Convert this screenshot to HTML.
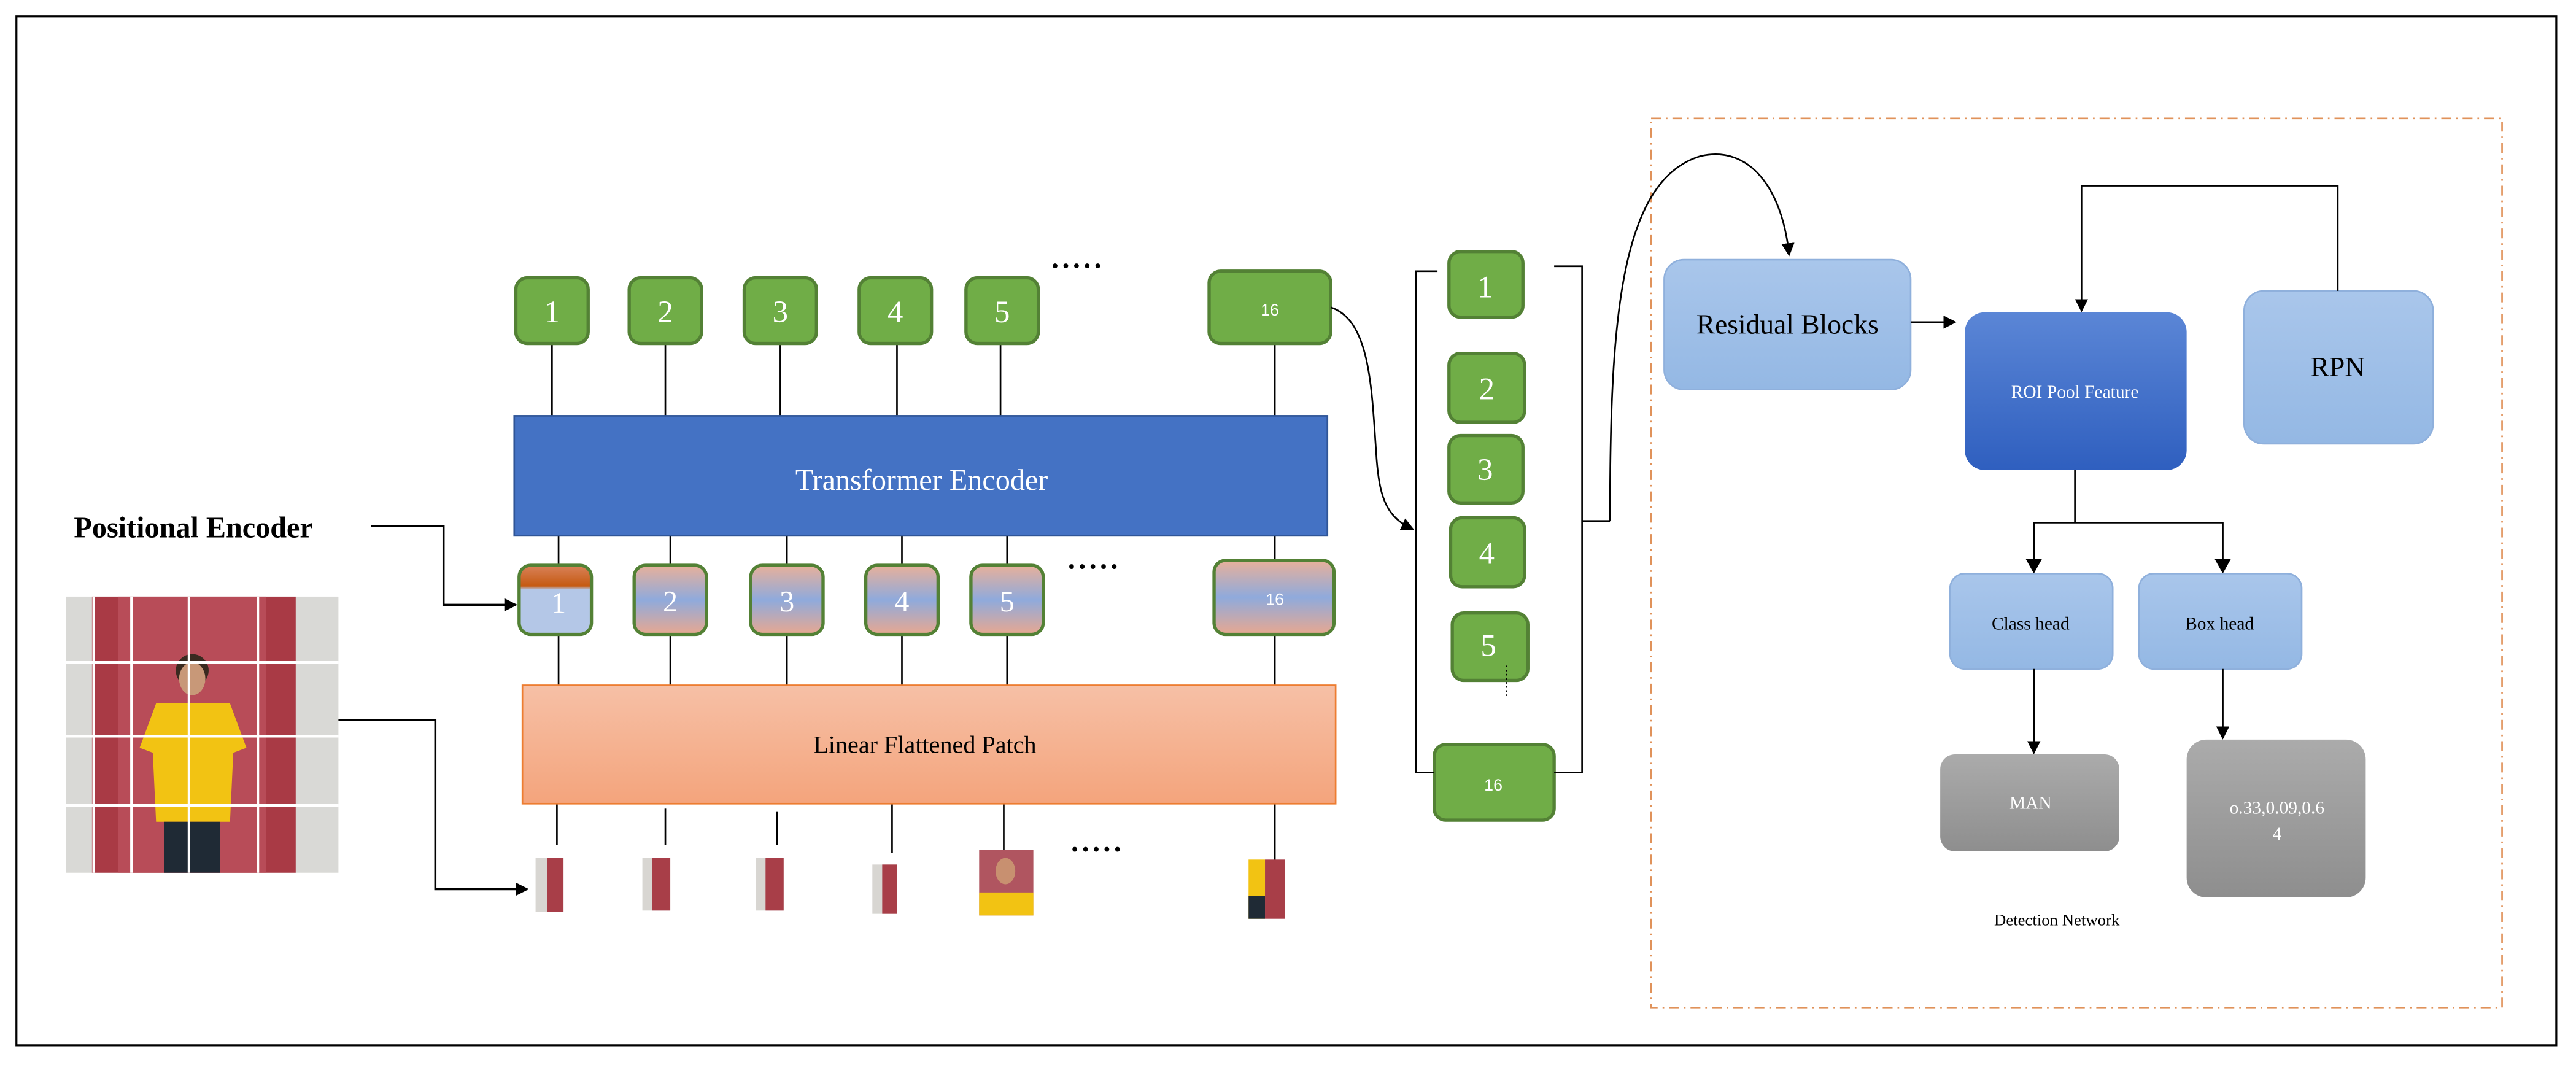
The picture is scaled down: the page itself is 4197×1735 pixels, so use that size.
<!DOCTYPE html>
<html><head><style>html,body{margin:0;padding:0;background:#fff}svg{display:block}</style></head><body>
<svg width="4197" height="1735" viewBox="0 0 1568 648" preserveAspectRatio="none" xmlns="http://www.w3.org/2000/svg" font-family="Liberation Serif, serif">
<defs>
<marker id="a" markerWidth="8" markerHeight="8" refX="7" refY="4" orient="auto" markerUnits="userSpaceOnUse"><path d="M0,0L8,4L0,8z" fill="#000"/></marker>
<linearGradient id="mid" x1="0" y1="0" x2="0" y2="1"><stop offset="0" stop-color="#E8B09A"/><stop offset=".5" stop-color="#8FAADC"/><stop offset="1" stop-color="#E8A890"/></linearGradient>
<linearGradient id="mid1" x1="0" y1="0" x2="0" y2="1"><stop offset="0" stop-color="#D9825A"/><stop offset=".3" stop-color="#C55A11"/><stop offset=".35" stop-color="#B4C7E7"/><stop offset="1" stop-color="#B4C7E7"/></linearGradient>
<linearGradient id="lin" x1="0" y1="0" x2="0" y2="1"><stop offset="0" stop-color="#F6C0A6"/><stop offset="1" stop-color="#F4A47C"/></linearGradient>
<linearGradient id="roi" x1="0" y1="0" x2="0" y2="1"><stop offset="0" stop-color="#5B86D6"/><stop offset="1" stop-color="#2F5FBF"/></linearGradient>
<linearGradient id="lb" x1="0" y1="0" x2="0" y2="1"><stop offset="0" stop-color="#A9C6EB"/><stop offset="1" stop-color="#94B8E4"/></linearGradient>
<linearGradient id="gr" x1="0" y1="0" x2="0" y2="1"><stop offset="0" stop-color="#ABABAB"/><stop offset="1" stop-color="#8E8E8E"/></linearGradient>
</defs>
<rect x="10" y="10" width="1546" height="626" fill="#fff" stroke="#000" stroke-width="1.2"/>
<rect x="1005" y="72" width="518" height="541" fill="none" stroke="#E0925A" stroke-width="1" stroke-dasharray="6,3,1,3"/>

<g stroke="#000" stroke-width="1">
<line x1="336" y1="209" x2="336" y2="253"/><line x1="405" y1="209" x2="405" y2="253"/><line x1="475" y1="209" x2="475" y2="253"/><line x1="546" y1="209" x2="546" y2="253"/><line x1="609" y1="209" x2="609" y2="253"/><line x1="776" y1="209" x2="776" y2="253"/>
<line x1="340" y1="326" x2="340" y2="344"/><line x1="408" y1="326" x2="408" y2="344"/><line x1="479" y1="326" x2="479" y2="344"/><line x1="549" y1="326" x2="549" y2="344"/><line x1="613" y1="326" x2="613" y2="344"/><line x1="776" y1="326" x2="776" y2="342"/>
<line x1="340" y1="386" x2="340" y2="417"/><line x1="408" y1="386" x2="408" y2="417"/><line x1="479" y1="386" x2="479" y2="417"/><line x1="549" y1="386" x2="549" y2="417"/><line x1="613" y1="386" x2="613" y2="417"/><line x1="776" y1="386" x2="776" y2="417"/>
<line x1="339" y1="489" x2="339" y2="514"/><line x1="405" y1="492" x2="405" y2="514"/><line x1="473" y1="494" x2="473" y2="514"/><line x1="543" y1="489" x2="543" y2="519"/><line x1="611" y1="489" x2="611" y2="522"/><line x1="776" y1="489" x2="776" y2="530"/>
</g>

<g fill="#70AD47" stroke="#538135" stroke-width="2">
<rect x="314" y="169" width="44" height="40" rx="7"/><rect x="383" y="169" width="44" height="40" rx="7"/><rect x="453" y="169" width="44" height="40" rx="7"/><rect x="523" y="169" width="44" height="40" rx="7"/><rect x="588" y="169" width="44" height="40" rx="7"/><rect x="736" y="165" width="74" height="44" rx="7"/>
<rect x="882" y="153" width="45" height="40" rx="7"/><rect x="882" y="215" width="46" height="42" rx="7"/><rect x="882" y="265" width="45" height="41" rx="7"/><rect x="883" y="315" width="45" height="42" rx="7"/><rect x="884" y="373" width="46" height="41" rx="7"/><rect x="873" y="453" width="73" height="46" rx="7"/>
</g>
<g fill="#fff" font-size="19" text-anchor="middle">
<text x="336" y="196">1</text><text x="405" y="196">2</text><text x="475" y="196">3</text><text x="545" y="196">4</text><text x="610" y="196">5</text><text x="773" y="192" font-size="10" font-family="Liberation Sans, sans-serif">16</text>
<text x="904" y="181">1</text><text x="905" y="243">2</text><text x="904" y="292">3</text><text x="905" y="343">4</text><text x="906" y="399">5</text><text x="909" y="481" font-size="10" font-family="Liberation Sans, sans-serif">16</text>
</g>
<line x1="917" y1="405" x2="917" y2="425" stroke="#000" stroke-dasharray="1,1.5"/>

<g font-size="18" font-weight="bold" fill="#000"><text x="640" y="163" letter-spacing="2">.....</text><text x="650" y="346" letter-spacing="2">.....</text><text x="652" y="518" letter-spacing="2">.....</text></g>

<rect x="313" y="253" width="495" height="73" fill="#4472C4" stroke="#2F5597" stroke-width="1"/>
<text x="561" y="298" fill="#fff" font-size="18" text-anchor="middle">Transformer Encoder</text>

<g stroke="#538135" stroke-width="2">
<rect x="316" y="344" width="44" height="42" rx="7" fill="url(#mid1)"/><rect x="386" y="344" width="44" height="42" rx="7" fill="url(#mid)"/><rect x="457" y="344" width="44" height="42" rx="7" fill="url(#mid)"/><rect x="527" y="344" width="44" height="42" rx="7" fill="url(#mid)"/><rect x="591" y="344" width="44" height="42" rx="7" fill="url(#mid)"/><rect x="739" y="341" width="73" height="45" rx="7" fill="url(#mid)"/>
</g>
<g fill="#fff" font-size="18" text-anchor="middle">
<text x="340" y="373">1</text><text x="408" y="372">2</text><text x="479" y="372">3</text><text x="549" y="372">4</text><text x="613" y="372">5</text><text x="776" y="368" font-size="10" font-family="Liberation Sans, sans-serif">16</text>
</g>

<rect x="318" y="417" width="495" height="72" fill="url(#lin)" stroke="#ED7D31" stroke-width="1"/>
<text x="563" y="458" font-size="15" text-anchor="middle">Linear Flattened Patch</text>

<text x="45" y="327" font-size="18" font-weight="bold">Positional Encoder</text>
<polyline points="226,320 270,320 270,368 314,368" fill="none" stroke="#000" stroke-width="1.3" marker-end="url(#a)"/>

<!-- photo -->
<rect x="40" y="363" width="166" height="168" fill="#D9D9D6"/>
<rect x="56" y="363" width="124" height="168" fill="#A93A45"/>
<rect x="72" y="363" width="90" height="168" fill="#B84C58"/>
<circle cx="117" cy="408" r="10" fill="#3a2a20"/>
<ellipse cx="117" cy="413" rx="8" ry="10" fill="#C89878"/>
<path d="M95,428 L140,428 L150,455 L142,458 L140,500 L95,500 L93,458 L85,455z" fill="#F2C313"/>
<rect x="100" y="500" width="34" height="31" fill="#1F2A35"/>
<g stroke="#fff" stroke-width="1.5"><line x1="57" y1="363" x2="57" y2="531"/><line x1="80" y1="363" x2="80" y2="531"/><line x1="115" y1="363" x2="115" y2="531"/><line x1="157" y1="363" x2="157" y2="531"/><line x1="40" y1="403" x2="206" y2="403"/><line x1="40" y1="448" x2="206" y2="448"/><line x1="40" y1="490" x2="206" y2="490"/></g>
<polyline points="206,438 265,438 265,541 321,541" fill="none" stroke="#000" stroke-width="1.3" marker-end="url(#a)"/>

<!-- patches -->
<g>
<rect x="326" y="522" width="17" height="33" fill="#D8D6D2"/><rect x="333" y="522" width="10" height="33" fill="#A83E48"/>
<rect x="391" y="522" width="17" height="32" fill="#D8D6D2"/><rect x="397" y="522" width="11" height="32" fill="#A83E48"/>
<rect x="460" y="522" width="17" height="32" fill="#D8D6D2"/><rect x="466" y="522" width="11" height="32" fill="#A83E48"/>
<rect x="531" y="526" width="15" height="30" fill="#D8D6D2"/><rect x="537" y="526" width="9" height="30" fill="#A83E48"/>
<rect x="596" y="517" width="33" height="40" fill="#B05560"/><ellipse cx="612" cy="530" rx="6" ry="8" fill="#C89070"/><rect x="596" y="543" width="33" height="14" fill="#F2C313"/>
<rect x="760" y="523" width="10" height="36" fill="#F2C313"/><rect x="770" y="523" width="12" height="36" fill="#A83E48"/><rect x="760" y="545" width="10" height="14" fill="#1F2A35"/>
</g>

<!-- curves & brackets -->
<path d="M810,187 C835,195 835,240 838,280 C840,305 845,315 860,322" fill="none" stroke="#000" stroke-width="1" marker-end="url(#a)"/>
<path d="M875,165 L862,165 L862,470 L873,470" fill="none" stroke="#000"/>
<path d="M946,162 L963,162 L963,470 L946,470 M963,317 L980,317" fill="none" stroke="#000"/>
<path d="M980,317 C980,200 985,110 1035,95 C1065,88 1085,115 1089,155" fill="none" stroke="#000" stroke-width="1" marker-end="url(#a)"/>

<!-- detection network -->
<rect x="1013" y="158" width="150" height="79" rx="12" fill="url(#lb)" stroke="#8FB0DC"/>
<text x="1088" y="203" font-size="17" text-anchor="middle">Residual Blocks</text>
<line x1="1163" y1="196" x2="1190" y2="196" stroke="#000" marker-end="url(#a)"/>
<rect x="1196" y="190" width="135" height="96" rx="12" fill="url(#roi)"/>
<text x="1263" y="242" font-size="11" fill="#fff" text-anchor="middle">ROI Pool Feature</text>
<rect x="1366" y="177" width="115" height="93" rx="12" fill="url(#lb)" stroke="#8FB0DC"/>
<text x="1423" y="229" font-size="17" text-anchor="middle">RPN</text>
<polyline points="1423,177 1423,113 1267,113 1267,189" fill="none" stroke="#000" marker-end="url(#a)"/>
<polyline points="1263,286 1263,318" fill="none" stroke="#000"/>
<polyline points="1238,348 1238,318 1353,318 1353,348" fill="none" stroke="#000"/>
<path d="M1233,340L1238,349L1243,340zM1348,340L1353,349L1358,340z" fill="#000"/>
<rect x="1187" y="349" width="99" height="58" rx="9" fill="url(#lb)" stroke="#8FB0DC"/>
<text x="1236" y="383" font-size="11" text-anchor="middle">Class head</text>
<rect x="1302" y="349" width="99" height="58" rx="9" fill="url(#lb)" stroke="#8FB0DC"/>
<text x="1351" y="383" font-size="11" text-anchor="middle">Box head</text>
<line x1="1238" y1="407" x2="1238" y2="458" stroke="#000" marker-end="url(#a)"/>
<line x1="1353" y1="407" x2="1353" y2="449" stroke="#000" marker-end="url(#a)"/>
<rect x="1181" y="459" width="109" height="59" rx="9" fill="url(#gr)"/>
<text x="1236" y="492" font-size="11" fill="#fff" text-anchor="middle">MAN</text>
<rect x="1331" y="450" width="109" height="96" rx="12" fill="url(#gr)"/>
<text x="1386" y="495" font-size="11" fill="#fff" text-anchor="middle">o.33,0.09,0.6</text>
<text x="1386" y="511" font-size="11" fill="#fff" text-anchor="middle">4</text>
<text x="1252" y="563" font-size="10" text-anchor="middle">Detection Network</text>
</svg>
</body></html>
